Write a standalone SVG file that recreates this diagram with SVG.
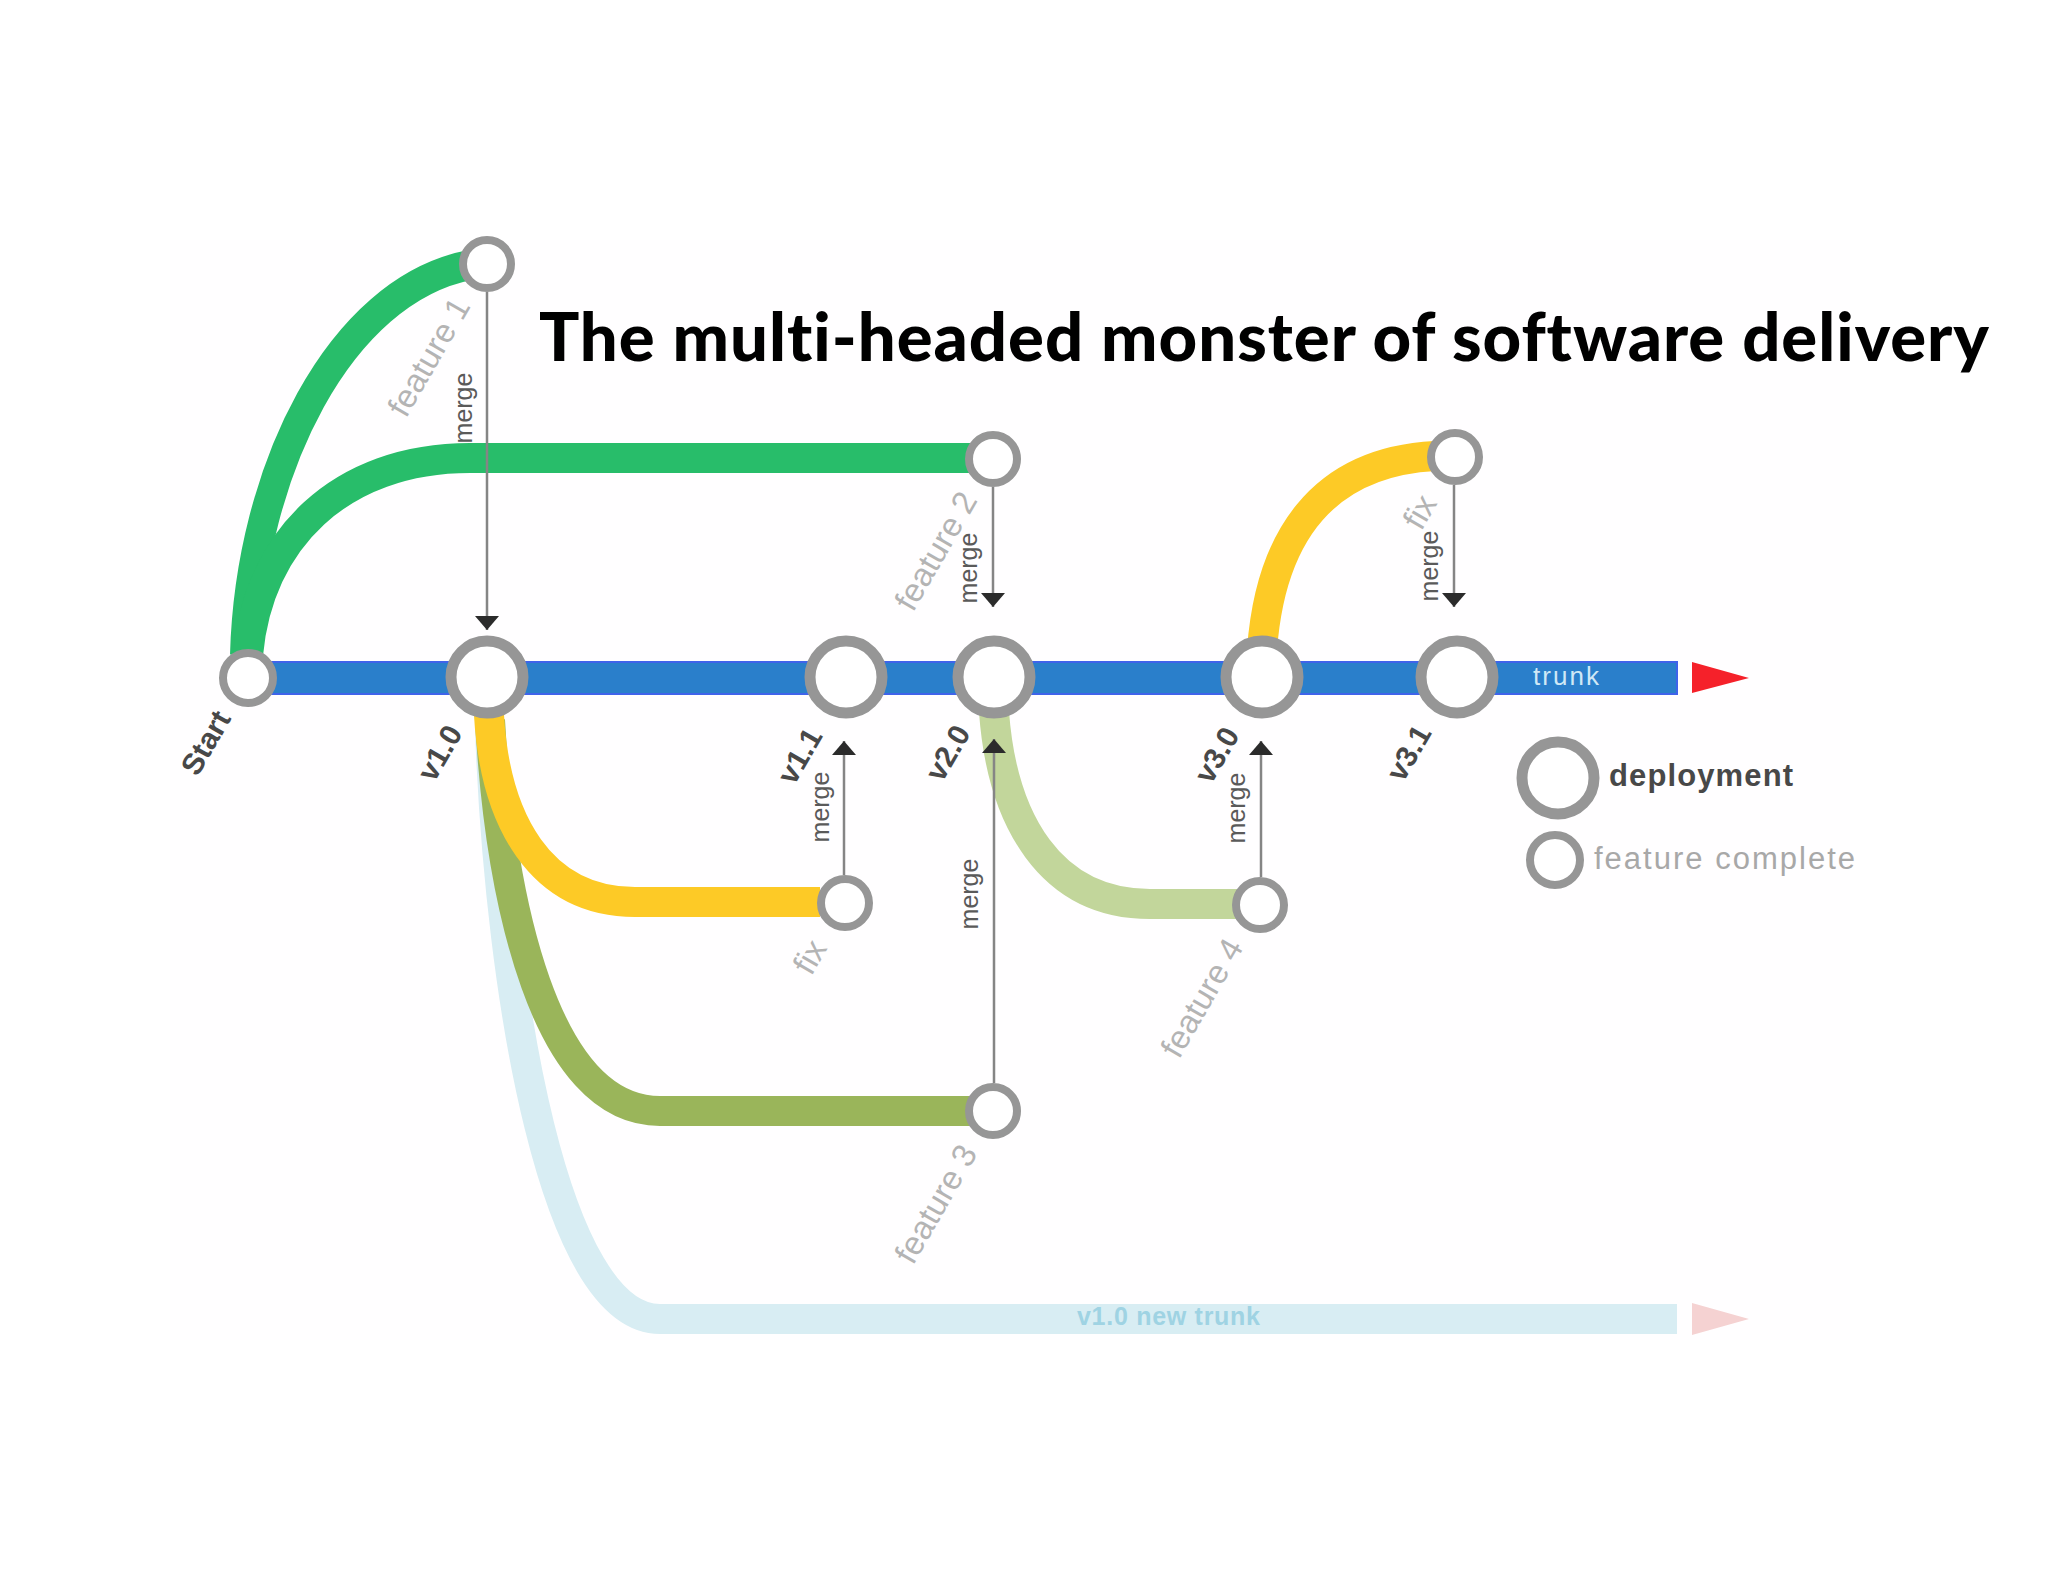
<svg xmlns="http://www.w3.org/2000/svg" width="2048" height="1582" viewBox="0 0 2048 1582">
<style>
text{font-family:"Liberation Sans",Arial,sans-serif}
.title{font-family:Lato,"Liberation Sans",sans-serif;font-weight:900;font-size:67px;fill:#000;font-variant-ligatures:none}
.ring{fill:#fff;stroke:#969696}
.big{stroke-width:11}
.small{stroke-width:8}
.branch{fill:none;stroke-width:30}
.merge{fill:none;stroke:#858585;stroke-width:2.5}
.mt{font-size:25px;fill:#5a5a5a;text-anchor:middle}
.ver{font-size:30px;font-weight:700;fill:#484848;text-anchor:middle}
.feat{font-size:33px;fill:#b4b4b4;text-anchor:middle}
</style>
<defs>
<marker id="ah" markerUnits="userSpaceOnUse" markerWidth="24" markerHeight="24" refX="14" refY="12" orient="auto">
<path d="M0,0L14,12L0,24Z" fill="#2b2b2b"/>
</marker>
</defs>
<rect x="170" y="240" width="1680" height="1100" fill="#fffeff"/>
<g id="merge-labels">
<text class="mt" transform="translate(472,408) rotate(-90)">merge</text>
<text class="mt" transform="translate(977,568) rotate(-90)">merge</text>
<text class="mt" transform="translate(1438,566) rotate(-90)">merge</text>
<text class="mt" transform="translate(829,807) rotate(-90)">merge</text>
<text class="mt" transform="translate(1245,808) rotate(-90)">merge</text>
<text class="mt" transform="translate(978,894) rotate(-90)">merge</text>
</g>
<g id="connectors">
<path class="branch" stroke="#d8edf3" d="M490,730C500,1000 555,1319 660,1319L1677,1319"/>
<path fill="#f5d2d2" d="M1692,1303L1749,1319L1692,1335Z"/>
<rect x="232" y="662" width="1445" height="32" fill="#2a7fcb" stroke="#3f63ea" stroke-width="2"/>
<path fill="#f5212a" d="M1692,662L1749,678L1692,693Z"/>
<path class="branch" stroke="#28bd6a" d="M245,655C250,470 340,290 470,265"/>
<path class="branch" stroke="#28bd6a" d="M248,655C258,540 340,458 470,458L970,458"/>
<path class="branch" stroke="#9ab55a" d="M490,720C500,900 545,1111 660,1111L970,1111"/>
<path class="branch" stroke="#fdca26" d="M489,715C495,820 540,902 635,902L820,902"/>
<path class="branch" stroke="#c2d69b" d="M994,712C1002,820 1050,904 1150,904L1240,904"/>
<path class="branch" stroke="#fdca26" d="M1262,650C1270,540 1320,462 1435,456"/>
<path class="merge" marker-end="url(#ah)" d="M487,292V630"/>
<path class="merge" marker-end="url(#ah)" d="M993,487V607"/>
<path class="merge" marker-end="url(#ah)" d="M1454,485V607"/>
<path class="merge" marker-end="url(#ah)" d="M844,875V741"/>
<path class="merge" marker-end="url(#ah)" d="M994,1083V739"/>
<path class="merge" marker-end="url(#ah)" d="M1261,877V741"/>
</g>
<text class="title" x="539" y="361" textLength="1450">The multi-headed monster of software delivery</text>
<g id="node-start"><circle class="ring small" cx="248" cy="678" r="25"/><text class="ver" transform="translate(206,743) rotate(-60)" dy="10">Start</text></g>
<g id="node-v1-0"><circle class="ring big" cx="487" cy="677" r="36"/><text class="ver" transform="translate(440,753) rotate(-60)" dy="10">v1.0</text></g>
<g id="node-v1-1"><circle class="ring big" cx="846" cy="677" r="36"/><text class="ver" transform="translate(800,756) rotate(-60)" dy="10">v1.1</text></g>
<g id="node-v2-0"><circle class="ring big" cx="994" cy="677" r="36"/><text class="ver" transform="translate(948,753) rotate(-60)" dy="10">v2.0</text></g>
<g id="node-v3-0"><circle class="ring big" cx="1262" cy="677" r="36"/><text class="ver" transform="translate(1217,755) rotate(-60)" dy="10">v3.0</text></g>
<g id="node-v3-1"><circle class="ring big" cx="1457" cy="677" r="36"/><text class="ver" transform="translate(1409,753) rotate(-60)" dy="10">v3.1</text></g>
<g id="node-feature-1"><circle class="ring small" cx="487" cy="264" r="24"/><text class="feat" transform="translate(429,357) rotate(-60)" dy="11">feature 1</text></g>
<g id="node-feature-2"><circle class="ring small" cx="993" cy="459" r="24"/><text class="feat" transform="translate(936,551) rotate(-60)" dy="11">feature 2</text></g>
<g id="node-fix-top"><circle class="ring small" cx="1455" cy="457" r="24"/><text class="feat" transform="translate(1420,512) rotate(-60)" dy="11">fix</text></g>
<g id="node-fix-low"><circle class="ring small" cx="845" cy="903" r="24"/><text class="feat" transform="translate(810,957) rotate(-60)" dy="11">fix</text></g>
<g id="node-feature-3"><circle class="ring small" cx="993" cy="1111" r="24"/><text class="feat" transform="translate(936,1204) rotate(-60)" dy="11">feature 3</text></g>
<g id="node-feature-4"><circle class="ring small" cx="1260" cy="905" r="24"/><text class="feat" transform="translate(1202,998) rotate(-60)" dy="11">feature 4</text></g>
<g id="line-labels">
<text x="1533" y="685" font-size="26" fill="#cfe8f6" textLength="66">trunk</text>
<text x="1077" y="1325" font-size="25" font-weight="700" fill="#9fd3e3" textLength="183">v1.0 new trunk</text>
</g>
<g id="legend">
<circle class="ring big" cx="1558" cy="778" r="36"/>
<text x="1609" y="786" font-size="31" font-weight="700" fill="#484848" textLength="184">deployment</text>
<circle class="ring small" cx="1555" cy="860" r="25"/>
<text x="1594" y="869" font-size="31" fill="#a8a8a8" textLength="261">feature complete</text>
</g>
</svg>
